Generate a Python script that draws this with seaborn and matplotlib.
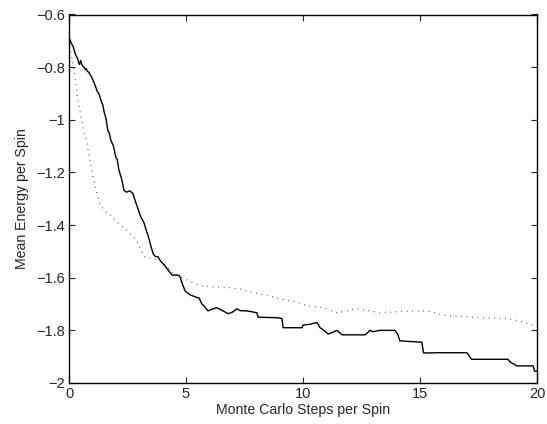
import matplotlib
matplotlib.use("Agg")
import matplotlib.pyplot as plt
import seaborn as sns
import pandas as pd

sns.set_style("ticks")
plt.rcParams['font.family'] = ['Liberation Sans', 'DejaVu Sans']

# Solid series (step corners)
solid_x = [0.0, 0.04, 0.1, 0.17, 0.22, 0.25, 0.32, 0.38, 0.42, 0.45, 0.5, 0.55, 0.58, 0.64, 0.7, 0.74, 0.78, 0.85, 0.95, 1.07,
           1.2, 1.3, 1.36, 1.45, 1.5, 1.58, 1.66, 1.72, 1.79, 1.9, 2.0, 2.06, 2.13, 2.25, 2.35, 2.45, 2.6, 2.73, 2.8, 2.94,
           3.07, 3.2, 3.3, 3.38, 3.5, 3.6, 3.7, 3.8, 3.9, 4.0, 4.1, 4.23, 4.4, 4.66, 4.74, 4.83, 4.96,
           5.17, 5.5, 5.55, 5.68, 5.8, 5.94, 6.1, 6.32, 6.45, 6.58, 6.8, 7.0, 7.18, 7.3, 7.6,
           8.03, 8.08, 8.89, 9.1, 9.15, 9.96, 10.0, 10.3, 10.6, 10.73, 10.9, 11.07, 11.2, 11.45, 11.67,
           12.65, 12.75, 12.86, 13.0, 13.29, 13.93, 14.05, 14.14, 15.08, 15.15, 15.3, 15.77, 17.0, 17.05,
           17.2, 18.76, 18.85, 19.14, 19.83, 19.9, 20.0]
solid_y = [-0.70, -0.695, -0.71, -0.72, -0.735, -0.745, -0.76, -0.77, -0.785, -0.79, -0.775, -0.79, -0.795, -0.80, -0.81, -0.805, -0.815, -0.82, -0.835, -0.858,
           -0.89, -0.905, -0.926, -0.945, -0.97, -0.995, -1.04, -1.05, -1.078, -1.10, -1.142, -1.15, -1.19, -1.225, -1.268, -1.275, -1.27, -1.28, -1.30, -1.336,
           -1.37, -1.39, -1.42, -1.44, -1.48, -1.51, -1.52, -1.52, -1.535, -1.545, -1.555, -1.57, -1.59, -1.59, -1.595, -1.62, -1.65,
           -1.665, -1.676, -1.676, -1.70, -1.71, -1.726, -1.72, -1.714, -1.72, -1.726, -1.737, -1.73, -1.718, -1.725, -1.726,
           -1.733, -1.75, -1.752, -1.755, -1.79, -1.79, -1.78, -1.777, -1.77, -1.79, -1.80, -1.814, -1.81, -1.80, -1.817,
           -1.817, -1.81, -1.80, -1.805, -1.80, -1.80, -1.815, -1.84, -1.845, -1.885, -1.886, -1.885, -1.885, -1.89,
           -1.91, -1.91, -1.92, -1.935, -1.935, -1.955, -1.955]

# Dotted series
dot_x = [0.0, 0.13, 0.26, 0.38, 0.56, 0.77, 0.98, 1.2, 1.32, 1.5, 1.75, 1.9, 2.2, 2.48, 2.7, 2.9, 3.05, 3.2,
         3.6, 4.0, 4.4, 4.83, 5.2, 5.6, 6.2, 6.88, 7.4, 7.86, 8.5, 9.0, 9.6, 10.17, 10.85, 11.45, 12.3,
         13.29, 14.3, 15.3, 16.15, 17.0, 17.56, 18.2, 18.7, 19.3, 19.83, 20.0]
dot_y = [-0.70, -0.77, -0.84, -0.925, -1.01, -1.09, -1.20, -1.28, -1.32, -1.345, -1.36, -1.375, -1.40, -1.42, -1.44, -1.46, -1.49, -1.52,
         -1.527, -1.54, -1.58, -1.60, -1.615, -1.63, -1.635, -1.638, -1.645, -1.657, -1.668, -1.68, -1.69, -1.707, -1.714, -1.733, -1.718,
         -1.733, -1.728, -1.726, -1.745, -1.748, -1.752, -1.754, -1.756, -1.765, -1.78, -1.785]

xticks = [0, 5, 10, 15, 20]
yticks = [-2, -1.8, -1.6, -1.4, -1.2, -1, -0.8, -0.6]
ytick_labels = ["\u22122", "\u22121.8", "\u22121.6", "\u22121.4", "\u22121.2", "\u22121", "\u22120.8", "\u22120.6"]

solid = pd.DataFrame({"x": solid_x, "y": solid_y})
dotted = pd.DataFrame({"x": dot_x, "y": dot_y})

fig = plt.figure(figsize=(5.47, 4.24), dpi=100)
ax = fig.add_axes([69/547, 41/424, 468/547, 368.5/424])

sns.lineplot(data=dotted, x="x", y="y", ax=ax, color="#333333", linestyle=(0, (0.6, 3.8)),
             linewidth=0.9, sort=False, estimator=None)
sns.lineplot(data=solid, x="x", y="y", ax=ax, color="black", linewidth=1.0,
             sort=False, estimator=None)

ax.set_xlim(0, 20)
ax.set_ylim(-2, -0.6)
ax.set_xticks(xticks)
ax.set_xticklabels([str(t) for t in xticks])
ax.set_yticks(yticks)
ax.set_yticklabels(ytick_labels)
ax.tick_params(direction="in", top=True, right=True, length=4, width=0.8, labelsize=10.5, pad=3)
for s in ax.spines.values():
    s.set_visible(True)
    s.set_linewidth(1.0)
    s.set_color("black")
ax.set_xlabel("Monte Carlo Steps per Spin", fontsize=10.2, labelpad=1)
ax.set_ylabel("Mean Energy per Spin", fontsize=10.2, labelpad=5)

fig.savefig("out.png", dpi=100)
